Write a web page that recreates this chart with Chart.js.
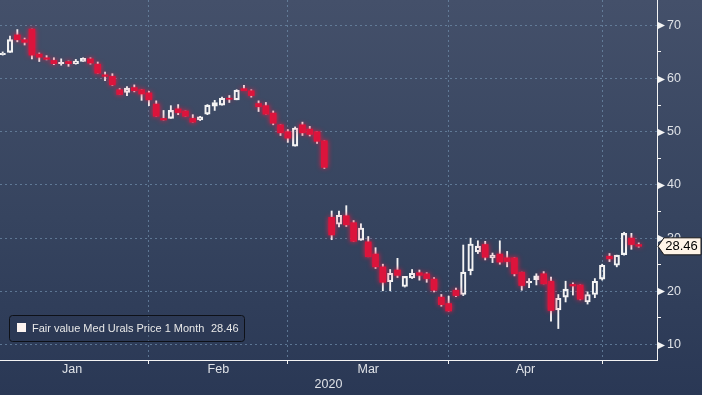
<!DOCTYPE html>
<html>
<head>
<meta charset="utf-8">
<script src="https://cdn.jsdelivr.net/npm/chart.js@4.4.0/dist/chart.umd.min.js"></script>
<style>
  html, body { margin: 0; padding: 0; background: #2a3855; }
  #wrap {
    position: relative; width: 702px; height: 395px;
    background: linear-gradient(to bottom, #44506a 0%, #36445f 55%, #2a3855 100%);
  }
  canvas { display: block; }
</style>
</head>
<body>
<div id="wrap"><canvas id="chart" width="702" height="395"></canvas></div>
<script>
// Months and index of their first trading day (Jan starts just off the left edge)
const monthNames = ['Jan', 'Feb', 'Mar', 'Apr'];
const monthStarts = [-1, 20, 39, 61, 82];
const yearLabel = '2020';

const yTickValues = [10, 15, 20, 25, 30, 35, 40, 45, 50, 55, 60, 65, 70];

// Daily OHLC
const openP = [64.5, 64.9, 68.2, 67.3, 69.3, 64.6, 63.9, 63.4, 62.8, 63.2,
  62.8, 63.2, 63.7, 62.7, 60.7, 60.4, 57.9, 57.4, 58.3, 57.9,
  57.3, 55.2, 52.5, 52.5, 54.3, 53.9, 52.5, 52.2, 53.3, 54.8,
  55.0, 56.3, 56.0, 58.1, 57.7, 55.3, 54.9, 53.5, 51.3, 50.0,
  47.3, 51.3, 50.5, 50.0, 48.3, 33.9, 32.6, 34.2, 32.9, 29.6,
  29.3, 27.0, 24.6, 21.8, 24.0, 20.9, 22.5, 23.5, 23.3, 22.3,
  18.9, 17.7, 20.2, 19.4, 23.9, 27.4, 28.8, 26.3, 27.0, 26.3,
  26.3, 23.6, 21.6, 22.2, 23.3, 21.9, 16.5, 18.9, 21.3, 21.2,
  18.0, 19.4, 22.3, 26.6, 24.9, 26.9, 30.0, 28.8];
const highP = [65.0, 68.0, 69.2, 67.6, 69.3, 64.8, 64.3, 63.9, 63.7, 63.3,
  63.6, 63.9, 63.9, 63.1, 61.2, 60.9, 58.1, 58.5, 58.8, 57.9,
  57.6, 55.8, 54.0, 54.9, 55.1, 53.9, 53.2, 52.9, 55.1, 55.9,
  56.5, 56.8, 57.9, 58.7, 57.9, 55.8, 55.5, 53.9, 51.3, 50.4,
  50.9, 51.8, 51.0, 50.0, 48.3, 35.1, 35.1, 36.1, 33.3, 32.7,
  30.3, 28.2, 25.1, 24.1, 26.2, 22.8, 24.1, 24.0, 23.5, 22.6,
  19.4, 19.1, 20.6, 28.7, 30.0, 29.5, 29.4, 27.2, 29.5, 27.5,
  26.3, 23.6, 22.4, 23.3, 23.7, 22.7, 19.4, 21.9, 21.6, 21.2,
  19.9, 22.4, 25.1, 27.1, 26.8, 31.1, 30.9, 29.1];
const lowP = [64.4, 64.9, 66.9, 66.3, 63.7, 63.2, 63.5, 62.6, 62.5, 62.3,
  62.7, 63.2, 62.7, 61.0, 59.6, 58.7, 57.0, 56.8, 57.5, 55.9,
  54.9, 52.9, 52.2, 52.5, 53.2, 52.9, 51.8, 52.1, 53.2, 54.0,
  55.0, 55.5, 56.0, 57.7, 56.5, 53.8, 53.3, 51.3, 49.3, 48.0,
  47.3, 49.3, 49.2, 47.8, 43.1, 29.7, 32.1, 32.2, 29.4, 29.6,
  26.5, 24.3, 20.1, 20.1, 22.6, 20.8, 22.4, 22.1, 21.7, 19.9,
  17.2, 16.3, 19.0, 19.2, 23.1, 27.1, 25.9, 25.4, 25.1, 24.6,
  22.9, 20.2, 20.7, 21.2, 21.4, 14.4, 13.0, 18.0, 19.3, 18.4,
  17.6, 18.8, 22.1, 25.6, 24.6, 26.8, 27.9, 28.3];
const closeP = [64.75, 67.3, 67.3, 66.8, 64.4, 64.0, 63.6, 62.8, 63.05, 62.8,
  63.3, 63.8, 62.9, 61.0, 60.4, 58.8, 57.0, 58.2, 57.7, 57.1,
  56.0, 52.9, 52.2, 54.0, 53.6, 52.9, 51.8, 52.8, 55.0, 55.5,
  56.3, 56.1, 57.8, 57.7, 56.8, 54.7, 53.3, 51.6, 49.8, 48.8,
  50.7, 49.8, 49.5, 48.2, 43.3, 30.6, 34.3, 32.5, 29.4, 31.9,
  26.5, 24.6, 21.7, 23.4, 23.0, 22.8, 23.4, 23.0, 22.4, 20.2,
  17.5, 16.3, 19.2, 23.6, 28.9, 28.5, 26.4, 26.8, 25.5, 25.6,
  23.3, 21.1, 21.9, 22.9, 21.4, 16.4, 18.7, 20.4, 21.0, 18.5,
  19.4, 21.9, 24.9, 26.1, 26.8, 30.9, 28.8, 28.46];

const seriesName = 'Fair value Med Urals Price 1 Month';
const lastValue = closeP[closeP.length - 1];

const RED = '#dc143c';
const WHITE = '#f4f4f4';
const GRID = 'rgba(112, 142, 172, 0.7)';
const TEXT = '#dfe2e7';

// month tick positions: boundaries carry the grid line, centres carry the label
const labelAt = {};
const xTickValues = [];
for (let m = 0; m < monthNames.length; m++) {
  const mid = (monthStarts[m] + monthStarts[m + 1]) / 2;
  labelAt[mid] = monthNames[m];
  xTickValues.push(mid);
  xTickValues.push(monthStarts[m + 1]);
}
const boundary = new Set(monthStarts);

// build bar data
const upBodies = [], downBodies = [], wickTop = [], wickBottom = [];
closeP.forEach(function(c, i) {
  const o = openP[i];
  const top = Math.max(o, c), bot = Math.min(o, c);
  (c >= o ? upBodies : downBodies).push({x: i, y: [bot, top]});
  wickTop.push({x: i, y: [top, highP[i]]});
  wickBottom.push({x: i, y: [lowP[i], bot]});
});

Chart.defaults.font.family = "'Liberation Sans', Arial, sans-serif";
Chart.defaults.font.size = 12;
Chart.defaults.color = TEXT;

// red glow under the falling candles
const glowPlugin = {
  id: 'glow',
  beforeDatasetDraw(chart, args) {
    if (!chart.data.datasets[args.index].glow) return;
    const ctx = chart.ctx;
    ctx.save();
    ctx.shadowColor = 'rgba(240, 25, 65, 0.95)';
    ctx.shadowBlur = 5;
  },
  afterDatasetDraw(chart, args) {
    if (chart.data.datasets[args.index].glow) chart.ctx.restore();
  }
};

// arrows on the value axis, last price tag and the legend box
const decorPlugin = {
  id: 'decor',
  afterDraw(chart) {
    const ctx = chart.ctx;
    const y = chart.scales.y;
    const ax = chart.chartArea.right;
    ctx.save();
    ctx.fillStyle = WHITE;
    yTickValues.filter(v => v % 10 === 0).forEach(function(v) {
      const py = Math.round(y.getPixelForValue(v)) + 0.5;
      ctx.beginPath();
      ctx.moveTo(ax, py - 4);
      ctx.lineTo(ax + 8, py);
      ctx.lineTo(ax, py + 4);
      ctx.closePath();
      ctx.fill();
    });

    // price tag
    const ty = y.getPixelForValue(lastValue);
    ctx.beginPath();
    ctx.moveTo(ax + 1, ty);
    ctx.lineTo(ax + 7, ty - 8.5);
    ctx.lineTo(701, ty - 8.5);
    ctx.lineTo(701, ty + 8.5);
    ctx.lineTo(ax + 7, ty + 8.5);
    ctx.closePath();
    ctx.fillStyle = '#fff4e8';
    ctx.fill();
    ctx.strokeStyle = '#1a1a1a';
    ctx.lineWidth = 1;
    ctx.stroke();
    ctx.fillStyle = '#000';
    ctx.font = "13px 'Liberation Sans', Arial, sans-serif";
    ctx.textAlign = 'center';
    ctx.textBaseline = 'middle';
    ctx.fillText(lastValue.toFixed(2), 681.5, ty + 0.5);

    // legend
    ctx.beginPath();
    ctx.roundRect(9.5, 315.5, 235, 26, 3);
    ctx.fillStyle = 'rgba(40, 52, 78, 0.35)';
    ctx.fill();
    ctx.strokeStyle = '#0e1118';
    ctx.stroke();
    ctx.fillStyle = '#fdf4f0';
    ctx.fillRect(17, 323, 9, 9);
    ctx.fillStyle = '#e8e8e8';
    ctx.font = "11px 'Liberation Sans', Arial, sans-serif";
    ctx.textAlign = 'left';
    ctx.fillText(seriesName, 32, 329);
    ctx.fillText(lastValue.toFixed(2), 211, 329);
    ctx.restore();
  }
};

const barCommon = { grouped: false, borderSkipped: false };

new Chart(document.getElementById('chart'), {
  type: 'bar',
  data: {
    datasets: [
      Object.assign({ data: downBodies, backgroundColor: RED, borderWidth: 0, barThickness: 6, order: 1, glow: true }, barCommon),
      Object.assign({ data: upBodies, backgroundColor: 'rgba(0,0,0,0)', borderColor: WHITE, borderWidth: 1.5, barThickness: 5.5, order: 1 }, barCommon),
      Object.assign({ data: wickTop, backgroundColor: WHITE, borderWidth: 0, barThickness: 1.2, order: 2 }, barCommon),
      Object.assign({ data: wickBottom, backgroundColor: WHITE, borderWidth: 0, barThickness: 1.2, order: 2 }, barCommon)
    ]
  },
  options: {
    responsive: false,
    animation: false,
    layout: { padding: 0 },
    plugins: { legend: { display: false }, tooltip: { enabled: false } },
    scales: {
      x: {
        type: 'linear',
        position: 'bottom',
        offset: false,
        min: -0.37,
        max: 89.5,
        afterBuildTicks: function(s) { s.ticks = xTickValues.map(v => ({ value: v })); },
        afterFit: function(s) { s.height = 35; s.paddingLeft = 0; s.paddingRight = 0; },
        ticks: {
          autoSkip: false,
          maxRotation: 0,
          padding: -2,
          color: TEXT,
          font: { size: 12.5 },
          callback: v => labelAt[v] || ''
        },
        grid: {
          offset: false,
          color: c => (c.tick && boundary.has(c.tick.value)) ? GRID : 'rgba(0,0,0,0)',
          tickColor: c => (c.tick && boundary.has(c.tick.value)) ? WHITE : 'rgba(0,0,0,0)',
          tickLength: 4,
          lineWidth: 1
        },
        border: { display: true, color: WHITE, width: 1, dash: [2, 3] },
        title: { display: true, text: yearLabel, color: TEXT, font: { size: 12.5 }, padding: { top: 0, bottom: 3 } }
      },
      y: {
        type: 'linear',
        position: 'right',
        min: 7.09,
        max: 74.76,
        afterBuildTicks: function(s) { s.ticks = yTickValues.map(v => ({ value: v })); },
        afterFit: function(s) { s.width = 45; s.paddingTop = 0; s.paddingBottom = 0; },
        ticks: {
          autoSkip: false,
          padding: 6,
          color: TEXT,
          font: { size: 12.5 },
          callback: v => (v % 10 === 0 ? String(v) : '')
        },
        grid: {
          color: c => (c.tick && c.tick.value % 10 === 0) ? GRID : 'rgba(0,0,0,0)',
          tickColor: c => (c.tick && c.tick.value % 10 !== 0) ? WHITE : 'rgba(0,0,0,0)',
          tickLength: 4,
          lineWidth: 1
        },
        border: { display: true, color: WHITE, width: 1, dash: [2, 3] }
      }
    }
  },
  plugins: [glowPlugin, decorPlugin]
});
</script>
</body>
</html>
